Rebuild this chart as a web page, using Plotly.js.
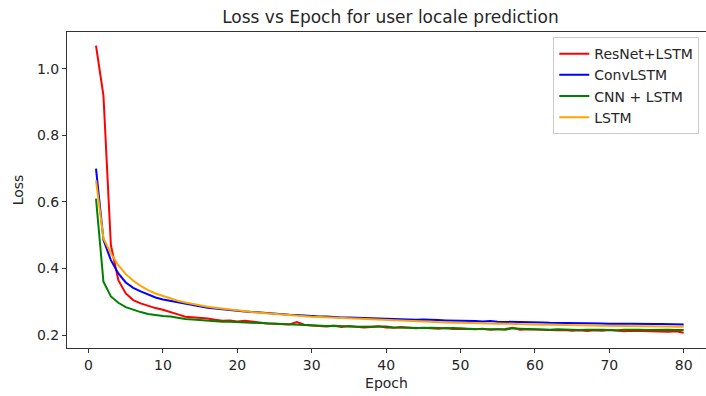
<!DOCTYPE html>
<html>
<head>
<meta charset="utf-8">
<script src="https://cdn.plot.ly/plotly-3.0.1.min.js"></script>
<style>html,body{margin:0;padding:0;background:#fff;}#chart{width:706px;height:396px;}</style>
</head>
<body>
<div id="chart"></div>
<script>
const epochs = [];
for (let i = 1; i <= 80; i++) epochs.push(i);

const seriesNames = ["ResNet+LSTM", "ConvLSTM", "CNN + LSTM", "LSTM"];

const resnetLstm = [1.07,0.92,0.47,0.365,0.325,0.305,0.295,0.287,0.281,0.276,
0.270,0.262,0.255,0.254,0.253,0.250,0.246,0.243,0.244,0.241,
0.243,0.240,0.237,0.235,0.234,0.233,0.232,0.239,0.231,0.229,
0.228,0.226,0.228,0.224,0.227,0.225,0.223,0.224,0.226,0.223,
0.222,0.224,0.221,0.220,0.222,0.220,0.219,0.221,0.218,0.219,
0.218,0.217,0.219,0.216,0.217,0.218,0.222,0.216,0.217,0.216,
0.215,0.216,0.214,0.215,0.213,0.214,0.212,0.214,0.213,0.215,
0.212,0.211,0.213,0.212,0.211,0.212,0.211,0.210,0.211,0.207];

const convLstm = [0.70,0.486,0.425,0.385,0.358,0.342,0.331,0.321,0.313,0.307,
0.303,0.298,0.293,0.289,0.286,0.282,0.280,0.277,0.275,0.273,
0.271,0.269,0.268,0.266,0.264,0.262,0.261,0.260,0.258,0.257,
0.256,0.256,0.254,0.253,0.253,0.252,0.251,0.250,0.249,0.249,
0.248,0.247,0.247,0.246,0.247,0.245,0.245,0.244,0.244,0.243,
0.242,0.242,0.241,0.242,0.240,0.240,0.239,0.239,0.239,0.238,
0.238,0.237,0.237,0.237,0.236,0.236,0.235,0.236,0.235,0.234,
0.235,0.234,0.234,0.233,0.234,0.233,0.233,0.232,0.232,0.232];

const cnnLstm = [0.61,0.36,0.316,0.297,0.284,0.276,0.269,0.263,0.259,0.257,
0.256,0.251,0.248,0.247,0.245,0.244,0.243,0.240,0.240,0.239,
0.238,0.236,0.236,0.234,0.233,0.233,0.231,0.230,0.230,0.229,
0.229,0.227,0.228,0.226,0.226,0.225,0.225,0.224,0.224,0.226,
0.223,0.222,0.223,0.221,0.221,0.222,0.220,0.220,0.221,0.219,
0.219,0.218,0.218,0.219,0.217,0.216,0.220,0.219,0.218,0.217,
0.217,0.216,0.217,0.216,0.216,0.215,0.216,0.217,0.216,0.215,
0.214,0.216,0.217,0.216,0.215,0.216,0.215,0.216,0.215,0.215];

const lstm = [0.665,0.49,0.445,0.41,0.383,0.363,0.348,0.335,0.325,0.317,
0.310,0.303,0.298,0.293,0.289,0.285,0.282,0.279,0.276,0.274,
0.271,0.269,0.267,0.265,0.263,0.261,0.260,0.258,0.257,0.255,
0.254,0.253,0.251,0.250,0.249,0.248,0.247,0.246,0.245,0.244,
0.243,0.242,0.242,0.241,0.240,0.239,0.239,0.238,0.237,0.237,
0.236,0.236,0.235,0.235,0.234,0.234,0.233,0.233,0.232,0.232,
0.231,0.231,0.231,0.230,0.230,0.229,0.229,0.229,0.228,0.228,
0.228,0.227,0.227,0.227,0.226,0.226,0.226,0.226,0.225,0.225];

const xTickVals = [0,10,20,30,40,50,60,70,80];
const yTickVals = [0.2,0.4,0.6,0.8,1.0];

const colors = ["#ff0000","#0000ff","#008000","#ffa500"];
const values = [resnetLstm, convLstm, cnnLstm, lstm];

const traces = values.map((v, i) => ({
  x: epochs, y: v, type: "scatter", mode: "lines", name: seriesNames[i],
  line: {color: colors[i], width: 2}
}));

const font = {family: "DejaVu Sans, sans-serif", size: 14, color: "#262626"};

const layout = {
  width: 706, height: 396,
  margin: {l: 67, r: 0, t: 32, b: 48, pad: 0},
  paper_bgcolor: "#ffffff", plot_bgcolor: "#ffffff",
  font: font,
  showlegend: true,
  title: {text: "Loss vs Epoch for user locale prediction", x: 0.553, xref: "container", xanchor: "center",
          y: 0.957, yref: "container", yanchor: "middle",
          font: {family: "DejaVu Sans, sans-serif", size: 17, color: "#262626"}},
  xaxis: {range: [-2.9, 83.0], tickvals: xTickVals, ticks: "outside", ticklen: 4, tickcolor: "#333",
          showline: true, linecolor: "#333", linewidth: 1, mirror: true, showgrid: false, zeroline: false,
          title: {text: "Epoch", standoff: 6, font: font}, tickfont: font},
  yaxis: {range: [0.161, 1.111], tickvals: yTickVals, tickformat: ".1f", ticks: "outside", ticklen: 4, tickcolor: "#333",
          showline: true, linecolor: "#333", linewidth: 1, showgrid: false, zeroline: false,
          title: {text: "Loss", standoff: 10, font: font}, tickfont: font},
  legend: {x: 0.761, y: 0.984, xanchor: "left", yanchor: "top", bgcolor: "rgba(255,255,255,0.8)",
           bordercolor: "#cccccc", borderwidth: 1, font: font, tracegroupgap: 0}
};

Plotly.newPlot("chart", traces, layout, {displayModeBar: false, staticPlot: true});
</script>
</body>
</html>
